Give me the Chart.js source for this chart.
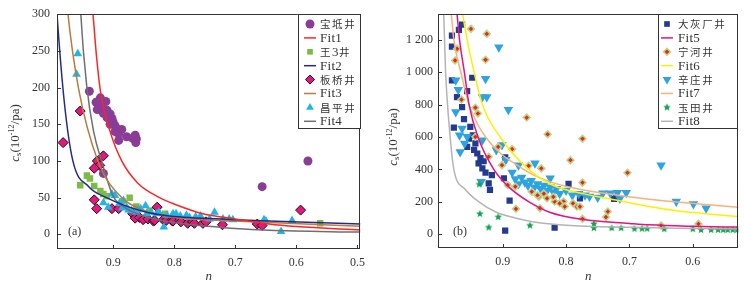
<!DOCTYPE html>
<html>
<head>
<meta charset="utf-8">
<script src="https://cdn.jsdelivr.net/npm/chart.js@4/dist/chart.umd.min.js"></script>
<style>
html,body{margin:0;padding:0;background:#fff;}
#wrap{position:relative;width:744px;height:285px;}
canvas{position:absolute;top:0;}
</style>
</head>
<body>
<div id="wrap">
<canvas id="ca" width="372" height="285" style="left:0;width:372px;height:285px"></canvas>
<canvas id="cb" width="372" height="285" style="left:372px;width:372px;height:285px"></canvas>
</div>
<script>
// ---- panel (a) data : [n, cs] ----
var baodi = [[0.939,195],[0.928,180],[0.921,186],[0.912,181],[0.924,176],[0.926,170],[0.919,173],[0.910,169],[0.916,165],[0.905,164],[0.910,159],[0.902,158],[0.900,153],[0.905,150],[0.897,148],[0.894,144],[0.886,143],[0.891,137],[0.897,140],[0.878,133],[0.864,135],[0.862,130],[0.868,131],[0.863,125],[0.891,128],[0.916,83],[0.656,65],[0.581,100]];
var wang3 = [[0.943,80],[0.938,76],[0.954,67],[0.931,66],[0.921,59],[0.916,55],[0.910,52],[0.873,50],[0.885,45],[0.862,38],[0.840,32],[0.815,28],[0.800,26],[0.561,15]];
var banqiao = [[0.982,125],[0.954,168],[0.916,107],[0.926,100],[0.922,94],[0.931,90],[0.931,47],[0.927,35],[0.902,35],[0.891,35],[0.828,37],[0.593,33],[0.721,13],[0.664,14],[0.656,12],[0.868,28],[0.864,22],[0.857,23],[0.851,20],[0.843,21],[0.834,18],[0.832,19],[0.818,20],[0.813,19],[0.804,19],[0.802,18],[0.791,19],[0.789,17],[0.778,15],[0.770,17],[0.767,15],[0.753,15],[0.748,17]];
var changping = [[0.958,246],[0.960,218],[0.902,55],[0.897,53],[0.916,43],[0.908,37],[0.883,46],[0.878,37],[0.870,32],[0.862,30],[0.860,33],[0.855,35],[0.847,39],[0.845,28],[0.838,30],[0.829,28],[0.825,30],[0.817,10],[0.812,26],[0.802,28],[0.797,28],[0.790,25],[0.780,26],[0.775,23],[0.765,24],[0.757,25],[0.742,21],[0.734,30],[0.720,21],[0.710,21],[0.704,20],[0.653,20],[0.650,18],[0.625,4],[0.607,19],[0.890,42],[0.885,36],[0.875,33]];
var fit1 = [[0.937,340],[0.933,300],[0.927,240],[0.920,190],[0.905,140],[0.886,100],[0.860,70],[0.824,50],[0.796,40],[0.753,28],[0.700,21],[0.645,14],[0.600,10.5],[0.495,6]];
var fit2 = [[0.995,340],[0.992,300],[0.980,180],[0.966,100],[0.940,65],[0.911,50],[0.850,31],[0.808,25],[0.700,20],[0.645,18],[0.495,14]];
var fit3 = [[0.978,340],[0.974,300],[0.957,200],[0.925,100],[0.886,50],[0.850,33],[0.808,24],[0.700,18],[0.645,16],[0.495,11]];
var fit4 = [[0.955,340],[0.953,300],[0.943,200],[0.932,140],[0.919,100],[0.900,52],[0.880,36],[0.850,25],[0.808,17],[0.700,8],[0.645,5.4],[0.495,3]];
var xTicksA = [0.9,0.8,0.7,0.6,0.5];
var yTicksA = [0,50,100,150,200,250,300];

// ---- panel (b) data ----
var dahuichang = [[0.980,1226],[0.980,1159],[0.969,1262],[0.964,1294],[0.980,950],[0.972,847],[0.977,658],[0.964,785],[0.956,884],[0.948,966],[0.961,711],[0.956,539],[0.951,662],[0.947,610],[0.943,560],[0.940,498],[0.938,437],[0.932,406],[0.935,470],[0.922,314],[0.920,273],[0.917,365],[0.898,345],[0.896,474],[0.889,207],[0.896,22],[0.818,40],[0.796,310],[0.778,221],[0.724,217],[0.721,230],[0.953,590],[0.945,520],[0.930,450],[0.927,380]];
var ninghe = [[0.950,1268],[0.925,1237],[0.927,1077],[0.975,1073],[0.972,1145],[0.965,831],[0.943,781],[0.939,745],[0.862,720],[0.829,617],[0.774,589],[0.885,525],[0.793,457],[0.703,379],[0.774,318],[0.943,601],[0.922,478],[0.907,539],[0.901,426],[0.892,303],[0.879,156],[0.859,422],[0.839,406],[0.843,231],[0.841,160],[0.830,221],[0.818,201],[0.804,201],[0.802,170],[0.789,190],[0.783,170],[0.778,170],[0.774,94],[0.734,139],[0.737,105],[0.650,53],[0.591,63],[0.880,293],[0.854,262],[0.845,240],[0.820,230],[0.810,190],[0.835,250]];
var xinzhuang = [[0.906,1155],[0.927,960],[0.932,847],[0.925,847],[0.891,769],[0.974,950],[0.970,892],[0.974,754],[0.964,652],[0.968,611],[0.967,508],[0.956,601],[0.932,580],[0.901,550],[0.934,324],[0.849,437],[0.875,426],[0.825,345],[0.885,380],[0.880,340],[0.875,310],[0.870,350],[0.865,320],[0.860,300],[0.855,330],[0.850,290],[0.845,310],[0.840,280],[0.835,300],[0.830,270],[0.825,290],[0.820,260],[0.815,280],[0.810,250],[0.800,270],[0.790,240],[0.780,250],[0.770,240],[0.763,232],[0.750,226],[0.742,252],[0.730,252],[0.719,256],[0.705,256],[0.715,220],[0.650,426],[0.626,201],[0.599,186],[0.579,160],[0.910,520],[0.895,460],[0.960,560]];
var yutian = [[0.937,307],[0.936,125],[0.922,41],[0.907,105],[0.857,53],[0.756,63],[0.756,37],[0.728,37],[0.713,37],[0.692,33],[0.680,33],[0.672,33],[0.645,31],[0.600,31],[0.587,26],[0.571,26],[0.560,26],[0.552,26],[0.545,26],[0.537,26],[0.530,26]];
var fit5 = [[0.975,1450],[0.972,1360],[0.968,1200],[0.960,990],[0.953,800],[0.939,600],[0.914,400],[0.890,290],[0.859,200],[0.826,135],[0.773,90],[0.700,66],[0.669,57],[0.600,48],[0.528,43]];
var fit6 = [[0.966,1450],[0.963,1360],[0.956,1200],[0.945,1000],[0.932,800],[0.904,600],[0.859,400],[0.820,300],[0.773,250],[0.721,210],[0.669,170],[0.616,139],[0.528,108]];
var fit7 = [[0.984,1450],[0.981,1360],[0.977,1200],[0.966,1000],[0.953,800],[0.927,600],[0.867,400],[0.826,324],[0.773,273],[0.721,242],[0.669,215],[0.616,195],[0.528,166]];
var fit8 = [[0.994,1450],[0.993,1360],[0.990,1000],[0.985,700],[0.977,400],[0.960,280],[0.938,200],[0.910,135],[0.880,100],[0.850,75],[0.800,55],[0.700,42],[0.600,35],[0.528,32]];
var xTicksB = [0.9,0.8,0.7,0.6];
var yTicksB = [0,200,400,600,800,1000,1200];

var SERIF = '"Liberation Serif","DejaVu Serif",serif';
var CJK = '"Noto Sans CJK SC",sans-serif';
var TXT = '#333';

function pts(a){ return a.map(function(p){ return {x:p[0], y:p[1]}; }); }

function starImg(color, r){
  var c = document.createElement('canvas'), s = Math.ceil(r*2+2);
  c.width = c.height = s;
  var g = c.getContext('2d');
  g.fillStyle = color; g.beginPath();
  for (var i=0;i<10;i++){
    var a = -Math.PI/2 + i*Math.PI/5, rr = i%2 ? r*0.45 : r;
    g.lineTo(s/2 + rr*Math.cos(a), s/2 + rr*Math.sin(a));
  }
  g.closePath(); g.fill();
  return c;
}

function scat(label, data, style, fill, r, extra){
  var d = {label:label, data:pts(data), pointStyle:style, backgroundColor:fill, borderColor:fill,
    pointRadius:r, pointBorderWidth:0, order:2};
  for (var k in extra) d[k] = extra[k];
  return d;
}
function fit(label, data, color){
  return {label:label, data:pts(data), showLine:true, pointRadius:0, borderColor:color, backgroundColor:color,
    borderWidth:1.5, cubicInterpolationMode:'monotone', order:0, isFit:true};
}

// draw mixed text (subscript/superscript) centred at 0,0 in the current transform
function richText(ctx, parts){
  var w = 0;
  parts.forEach(function(p){ ctx.font = p.f; p.w = ctx.measureText(p.t).width; w += p.w; });
  var x = -w/2;
  ctx.textBaseline = 'middle'; ctx.textAlign = 'left';
  parts.forEach(function(p){ ctx.font = p.f; ctx.fillText(p.t, x, p.dy || 0); x += p.w; });
}

function drawLabel(ctx, text, x, y){
  // CJK characters spaced a little, latin normal
  var cx = x;
  for (var i=0;i<text.length;i++){
    var ch = text[i];
    var cjk = ch.charCodeAt(0) > 255;
    ctx.font = cjk ? '10.5px ' + CJK : '13px ' + SERIF;
    ctx.fillText(ch, cx, y);
    cx += ctx.measureText(ch).width + (cjk ? 1.6 : 0.3);
  }
}

var decor = {
  id:'decor',
  afterDraw: function(chart){
    var o = chart.options.plugins.decor, ctx = chart.ctx, a = chart.chartArea;
    var xs = chart.scales.x, ys = chart.scales.y;
    ctx.save();
    // frame and inner ticks
    ctx.strokeStyle = '#333'; ctx.lineWidth = 1;
    ctx.strokeRect(Math.round(a.left)+0.5, Math.round(a.top)+0.5, Math.round(a.right-a.left)-1, Math.round(a.bottom-a.top)-1);
    ctx.beginPath();
    o.xt.forEach(function(v){ var px = Math.round(xs.getPixelForValue(v))+0.5; ctx.moveTo(px, a.bottom); ctx.lineTo(px, a.bottom-4); });
    o.yt.forEach(function(v){ var py = Math.round(ys.getPixelForValue(v))+0.5; ctx.moveTo(a.left, py); ctx.lineTo(a.left+4, py); });
    ctx.stroke();
    ctx.fillStyle = TXT;
    // panel letter
    ctx.font = '12px ' + SERIF; ctx.textAlign = 'left'; ctx.textBaseline = 'middle';
    ctx.fillText(o.tag, o.tagX, o.tagY);
    // x title
    ctx.font = 'italic 13px ' + SERIF; ctx.textAlign = 'center';
    ctx.fillText('n', (a.left+a.right)/2, 277);
    // y title
    ctx.save();
    ctx.translate(o.ytX, o.ytY); ctx.rotate(-Math.PI/2);
    richText(ctx, [
      {t:'c', f:'italic 13px ' + SERIF},
      {t:'s', f:'9px ' + SERIF, dy:3},
      {t:'(10', f:'13px ' + SERIF},
      {t:'-12', f:'8px ' + SERIF, dy:-4},
      {t:'/pa)', f:'13px ' + SERIF}
    ]);
    ctx.restore();
    // legend
    var L = o.legend;
    ctx.fillStyle = '#fff';
    ctx.fillRect(L.left, a.top, a.right - L.left, L.bottom - a.top);
    ctx.strokeStyle = '#333';
    ctx.strokeRect(Math.round(L.left)+0.5, Math.round(a.top)+0.5, Math.round(a.right-L.left)-1, Math.round(L.bottom-a.top)-1);
    chart.data.datasets.forEach(function(ds, i){
      var y = L.y0 + i*L.dy;
      if (ds.isFit){
        ctx.strokeStyle = ds.borderColor; ctx.lineWidth = 1.5;
        ctx.beginPath(); ctx.moveTo(L.sx-6, y); ctx.lineTo(L.sx+6, y); ctx.stroke();
      } else {
        ctx.fillStyle = ds.backgroundColor;
        ctx.strokeStyle = ds.pointBorderColor || ds.borderColor;
        ctx.lineWidth = ds.pointBorderWidth || 0;
        Chart.helpers.drawPoint(ctx, {pointStyle:ds.pointStyle, radius:ds.legendR || ds.pointRadius,
          rotation:ds.pointRotation || 0, borderWidth:ds.pointBorderWidth || 0}, L.sx, y);
      }
      ctx.fillStyle = TXT; ctx.textAlign = 'left'; ctx.textBaseline = 'middle';
      drawLabel(ctx, ds.label, L.tx, y + 0.5);
    });
    ctx.restore();
  }
};

function makeChart(id, cfg){
  return new Chart(document.getElementById(id), {
    type:'scatter',
    data:{datasets:cfg.datasets},
    options:{
      responsive:false, animation:false, events:[],
      layout:{padding:cfg.pad},
      plugins:{legend:{display:false}, tooltip:{enabled:false}, decor:cfg.decor},
      scales:{
        x:{type:'linear', reverse:true, min:cfg.xmin, max:cfg.xmax,
          grid:{display:false, drawTicks:false}, border:{display:false},
          ticks:{font:{family:SERIF, size:12}, color:TXT, padding:7, autoSkip:false, maxRotation:0,
            callback:function(v){ return v.toFixed(1); }},
          afterBuildTicks:function(s){ s.ticks = cfg.decor.xt.map(function(v){ return {value:v}; }); },
          afterFit:function(s){ s.height = cfg.xh; }},
        y:{type:'linear', min:cfg.ymin, max:cfg.ymax,
          grid:{display:false, drawTicks:false}, border:{display:false},
          ticks:{font:{family:SERIF, size:12}, color:TXT, padding:cfg.ypad, autoSkip:false,
            callback:function(v){ return v >= 1000 ? Math.floor(v/1000) + ' ' + String(v % 1000).padStart(3,'0') : String(v); }},
          afterBuildTicks:function(s){ s.ticks = cfg.decor.yt.map(function(v){ return {value:v}; }); },
          afterFit:function(s){ s.width = cfg.yw; }}
      }
    },
    plugins:[decor]
  });
}

makeChart('ca', {
  datasets:[
    scat('宝坻井', baodi, 'circle', '#8a3c96', 4.5, {order:4}),
    fit('Fit1', fit1, '#ff2424'),
    scat('王3井', wang3, 'rect', '#7dbb46', 4.6, {order:3, legendR:4}),
    fit('Fit2', fit2, '#26298c'),
    scat('板桥井', banqiao, 'rectRot', '#e8157f', 5, {order:2, pointBorderColor:'#111', pointBorderWidth:1, legendR:4.5}),
    fit('Fit3', fit3, '#b97b3e'),
    scat('昌平井', changping, 'triangle', '#20b5e5', 5, {order:1, legendR:4.5}),
    fit('Fit4', fit4, '#6f6f6f')
  ],
  pad:{left:0, right:10, top:11, bottom:0},
  xmin:0.495, xmax:0.992, ymin:-20, ymax:300, xh:36, yw:57, ypad:7,
  decor:{xt:xTicksA, yt:yTicksA, tag:'(a)', tagX:68, tagY:232, ytX:16, ytY:133,
    legend:{left:297.7, bottom:129, y0:24, dy:13.9, sx:310, tx:320}}
});

makeChart('cb', {
  datasets:[
    scat('大灰厂井', dahuichang, 'rect', '#233a8e', 4.4, {order:4, legendR:4}),
    fit('Fit5', fit5, '#e6127f'),
    scat('宁河井', ninghe, 'rectRot', '#ff1a1a', 3.4, {order:2, pointBorderColor:'#b2d98a', pointBorderWidth:1.6, legendR:3.4}),
    fit('Fit6', fit6, '#fff000'),
    scat('辛庄井', xinzhuang, 'triangle', '#2da3e2', 5.5, {order:3, pointRotation:180, legendR:5}),
    fit('Fit7', fit7, '#f9b07a'),
    scat('玉田井', yutian, starImg('#12a34f', 4), '#12a34f', 4, {order:1}),
    fit('Fit8', fit8, '#b4b4b4')
  ],
  pad:{left:0, right:4, top:14, bottom:0},
  xmin:0.528, xmax:1.002, ymin:-86, ymax:1360, xh:37, yw:66, ypad:5,
  decor:{xt:xTicksB, yt:yTicksB, tag:'(b)', tagX:81, tagY:232, ytX:22, ytY:137,
    legend:{left:286, bottom:129, y0:24, dy:13.9, sx:295, tx:306}}
});
</script>
</body>
</html>
